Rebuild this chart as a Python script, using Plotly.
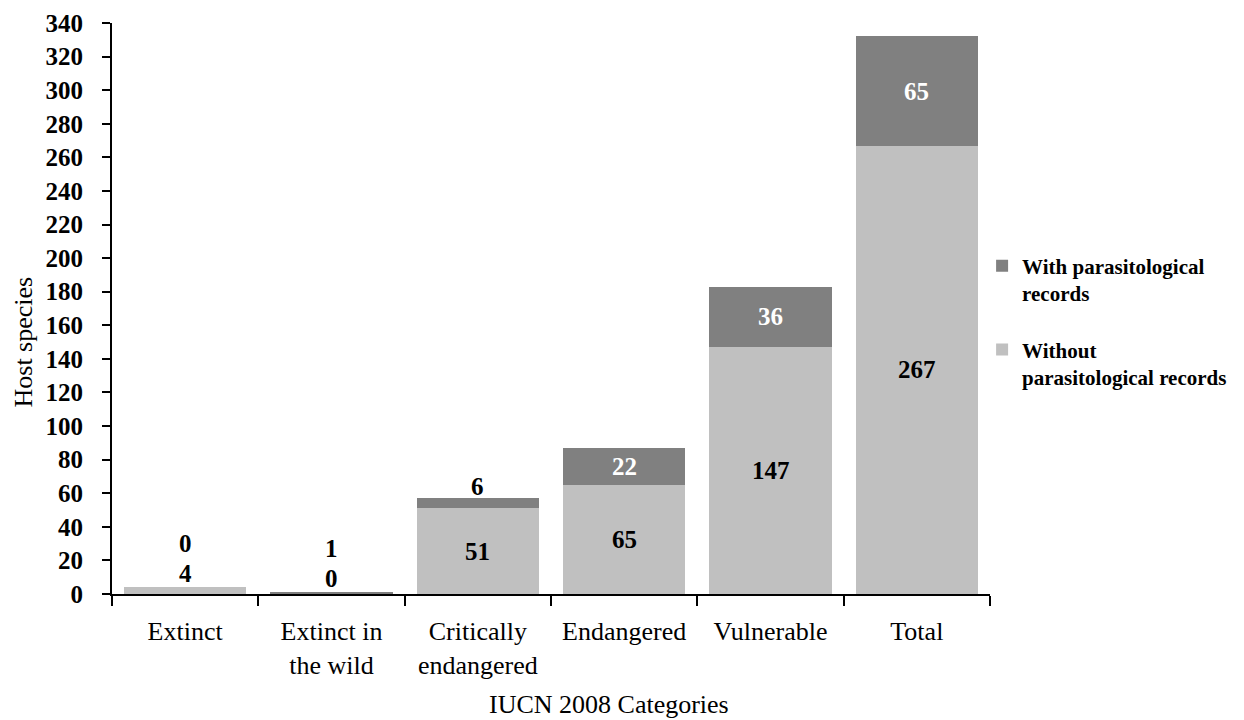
import plotly.graph_objects as go

categories = ["Extinct", "Extinct in<br>the wild", "Critically<br>endangered", "Endangered", "Vulnerable", "Total"]
without_records = [4, 0, 51, 65, 147, 267]
with_records = [0, 1, 6, 22, 36, 65]
y_ticks = list(range(0, 341, 20))

LIGHT = "#c0c0c0"
DARK = "#808080"
FONT = "Liberation Serif"

fig = go.Figure()
fig.add_trace(go.Bar(x=categories, y=without_records, name="<b>Without<br>parasitological records</b>",
                     marker=dict(color=LIGHT, line=dict(width=0)), legendgroup="without", legendrank=2))
fig.add_trace(go.Bar(x=categories, y=with_records, name="<b>With parasitological<br>records</b>",
                     marker=dict(color=DARK, line=dict(width=0)), legendgroup="with", legendrank=1))

# data labels
ann = []
for i, c in enumerate(categories):
    w, d = without_records[i], with_records[i]
    total = w + d
    if total < 20:
        ann.append(dict(x=c, y=total, text=f"<b>{w}</b>", yshift=14, font=dict(color="black")))
        ann.append(dict(x=c, y=total, text=f"<b>{d}</b>", yshift=44, font=dict(color="black")))
    else:
        ann.append(dict(x=c, y=w / 2, text=f"<b>{w}</b>", font=dict(color="black")))
        if d < 10:
            ann.append(dict(x=c, y=total, text=f"<b>{d}</b>", yshift=12, font=dict(color="black")))
        else:
            ann.append(dict(x=c, y=w + d / 2, text=f"<b>{d}</b>", font=dict(color="white")))
for a in ann:
    a.update(showarrow=False, xref="x", yref="y")
    a["font"].update(family=FONT, size=25)

# axis titles
ann.append(dict(text="IUCN 2008 Categories", xref="paper", yref="paper", x=0.566, y=-0.194,
                xanchor="center", yanchor="middle", showarrow=False,
                font=dict(family=FONT, size=26, color="black")))
ann.append(dict(text="Host species", xref="paper", yref="paper", x=-0.101, y=0.441,
                xanchor="center", yanchor="middle", textangle=-90, showarrow=False,
                font=dict(family=FONT, size=26, color="black")))
fig.update_layout(annotations=ann)

fig.update_layout(
    barmode="stack",
    bargap=0.166,
    width=1244, height=720,
    margin=dict(l=104, r=262, t=15, b=134, autoexpand=False),
    plot_bgcolor="white", paper_bgcolor="white",
    font=dict(family=FONT, size=25, color="black"),
    showlegend=True,
    legend=dict(x=0.991, y=0.61, xanchor="left", yanchor="top",
                bgcolor="rgba(0,0,0,0)",
                traceorder="grouped", tracegroupgap=26, valign="top",
                font=dict(family=FONT, size=21, color="black")),
    xaxis=dict(showline=True, linecolor="black", linewidth=2,
               ticks="outside", tickson="boundaries", ticklen=10, tickwidth=2, tickcolor="black",
               ticklabelstandoff=13,
               tickfont=dict(family=FONT, size=26)),
    yaxis=dict(range=[0, 340], tickvals=y_ticks, ticktext=[f"<b>{t}</b>" for t in y_ticks],
               showline=True, linecolor="black", linewidth=2, showgrid=False, zeroline=False,
               ticks="outside", ticklen=8, tickwidth=2, tickcolor="black", ticklabelstandoff=14,
               tickfont=dict(family=FONT, size=25)),
)

fig.write_html("out.html")
